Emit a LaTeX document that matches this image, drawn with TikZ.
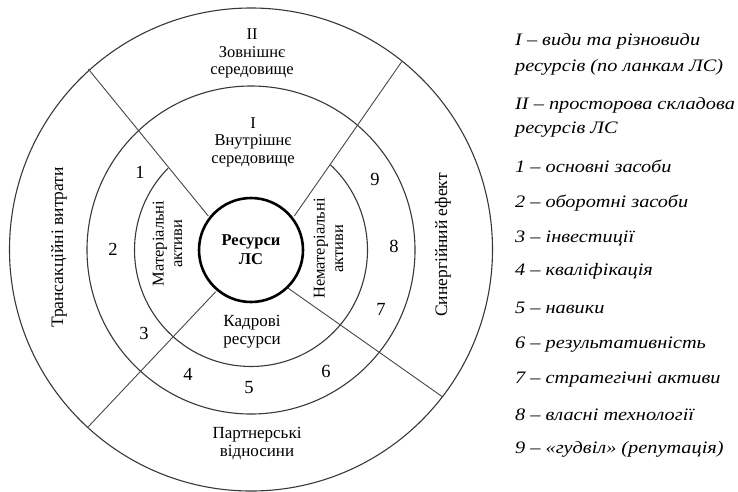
\documentclass[tikz,border=0pt]{standalone}
\usepackage{fontspec}
\setmainfont{Liberation Serif}
\newfontfamily\legfont[FakeStretch=1.16]{Liberation Serif}
\begin{document}
\begin{tikzpicture}[x=1pt,y=-1pt,
  ring/.style={draw=black!78, line width=1.1pt},
  sep/.style={draw=black!72, line width=0.9pt},
  lbl/.style={font=\fontsize{16.5}{17.5}\selectfont, align=center, inner sep=0pt},
  lblb/.style={font=\fontsize{17}{18}\selectfont, align=center, inner sep=0pt},
  rlbl/.style={font=\fontsize{16.5}{18.5}\selectfont, align=center, inner sep=0pt, rotate=90},
  rlblo/.style={font=\fontsize{17.5}{19}\selectfont, align=center, inner sep=0pt, rotate=90},
  num/.style={font=\fontsize{18.5}{20}\selectfont, inner sep=0pt},
  leg/.style={font=\fontsize{17.5}{20}\legfont\itshape, anchor=west, inner sep=0pt}]
\useasboundingbox (0,0) rectangle (738,491);
\coordinate (c) at (251,250);
\coordinate (oc) at (251,249.5);
% rings
\draw[ring] (oc) circle[radius=241.5];
\draw[ring] (c) circle[radius=164];
\draw[ring] (c) ++(224.6:116.5) arc[start angle=224.6, end angle=-47.1, radius=116.5];
% centre
\node[draw=black, line width=2.6pt, circle, minimum size=104pt, inner sep=0pt,
      align=center, font=\fontsize{16.5}{19}\selectfont\bfseries] (res) at (c) {Ресурси\\ЛС};
% separators
\coordinate (o1) at (88.3,69);    \coordinate (i1) at (208.3,216);
\coordinate (o2) at (401.7,61.7); \coordinate (i2) at (294.3,216);
\coordinate (o3) at (88.3,426.7); \coordinate (i3) at (215.7,291.7);
\coordinate (o4) at (442.3,396.7);\coordinate (i4) at (288.3,288.3);
\draw[sep] (o1) -- (i1);
\draw[sep] (o2) -- (i2);
\draw[sep] (o3) -- (i3);
\draw[sep] (o4) -- (i4);
% sector labels
\node[lbl] (ext) at (252,53.5) {II\\Зовнішнє\\середовище};
\node[lbl] (int) at (253,142) {I\\Внутрішнє\\середовище};
\node[lblb] (kadr) at (252,331.5) {Кадрові\\ресурси};
\node[lblb] (part) at (257,443.5) {Партнерські\\відносини};
\node[rlbl] (mat) at (167.5,243.5) {Матеріальні\\активи};
\node[rlbl] (nemat) at (328.5,248.5) {Нематеріальні\\активи};
\node[rlblo] (trans) at (59,247.5) {Трансакційні витрати};
\node[rlblo] (syn) at (443,245) {Синергійний ефект};
% numbers
\node[num] (n1) at (140,172) {1};
\node[num] (n2) at (113,249) {2};
\node[num] (n3) at (144,333) {3};
\node[num] (n4) at (188,374) {4};
\node[num] (n5) at (249,388) {5};
\node[num] (n6) at (326,371) {6};
\node[num] (n7) at (381,309) {7};
\node[num] (n8) at (394,246) {8};
\node[num] (n9) at (375,179) {9};
% legend
\node[leg] (l1) at (515,41) {I – види та різновиди};
\node[leg] (l1b) at (515,67) {ресурсів (по ланкам ЛС)};
\node[leg] (l2) at (515,105) {II – просторова складова};
\node[leg] (l2b) at (515,130) {ресурсів ЛС};
\node[leg] (l3) at (515,166.7) {1 – основні засоби};
\node[leg] (l4) at (515,202.7) {2 – оборотні засоби};
\node[leg] (l5) at (515,238.3) {3 – інвестиції};
\node[leg] (l6) at (515,271.7) {4 – кваліфікація};
\node[leg] (l7) at (515,308.3) {5 – навики};
\node[leg] (l8) at (515,345) {6 – результативність};
\node[leg] (l9) at (515,380) {7 – стратегічні активи};
\node[leg] (l10) at (515,415) {8 – власні технології};
\node[leg] (l11) at (515,449.3) {9 – «гудвіл» (репутація)};
\end{tikzpicture}
\end{document}
